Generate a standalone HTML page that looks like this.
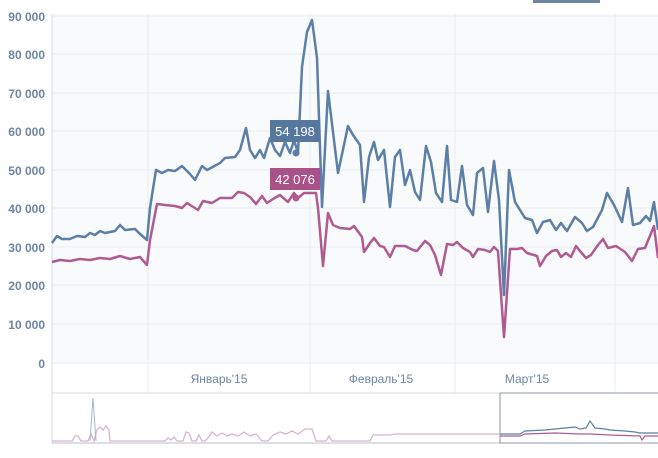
<!DOCTYPE html><html><head><style>body{margin:0;background:#fff}</style></head><body>
<svg width="658" height="453" xmlns="http://www.w3.org/2000/svg" font-family="Liberation Sans, sans-serif">
<rect x="52" y="14" width="606" height="349" fill="#f9fafc"/>
<g stroke="#e8ecf2" stroke-width="1">
<line x1="52" x2="658" y1="16" y2="16"/><line x1="52" x2="658" y1="54" y2="54"/><line x1="52" x2="658" y1="93" y2="93"/><line x1="52" x2="658" y1="131" y2="131"/><line x1="52" x2="658" y1="170" y2="170"/><line x1="52" x2="658" y1="208" y2="208"/><line x1="52" x2="658" y1="247" y2="247"/><line x1="52" x2="658" y1="285" y2="285"/><line x1="52" x2="658" y1="324" y2="324"/><line x1="52" x2="658" y1="363" y2="363"/>
<line x1="148" x2="148" y1="14" y2="393"/><line x1="310" x2="310" y1="14" y2="393"/><line x1="455" x2="455" y1="14" y2="393"/><line x1="615" x2="615" y1="14" y2="393"/>
</g>
<line x1="52" x2="52" y1="14" y2="393" stroke="#d5dbe3"/>
<line x1="52" x2="658" y1="393" y2="393" stroke="#d5dbe3"/>
<g fill="#6d85a3" font-size="12" font-weight="bold" text-anchor="end">
<text x="45" y="21">90 000</text><text x="45" y="59">80 000</text><text x="45" y="98">70 000</text><text x="45" y="136">60 000</text><text x="45" y="175">50 000</text><text x="45" y="213">40 000</text><text x="45" y="252">30 000</text><text x="45" y="290">20 000</text><text x="45" y="329">10 000</text><text x="45" y="368">0</text>
</g>
<g fill="#6d85a3" font-size="12" text-anchor="middle">
<text x="219" y="383">Январь'15</text><text x="381" y="383">Февраль'15</text><text x="527" y="383">Март'15</text>
</g>
<polyline fill="none" stroke="#5b7fa6" stroke-width="2.5" stroke-linejoin="round" points="52,243 57,236 62,239 70,239 77,236 85,237 90,233 95,235 100,231 105,233 115,231 120,225 125,230 135,229 140,234 147,240 150,208 156,170 162,173 168,170 175,171 182,166 190,174 195,180 202,166 207,170 220,163 225,158 235,157 240,150 246,128 250,150 255,158 260,150 264,158 270,138 275,150 280,156 285,142 290,153 294,140 298,153 302,67 307,32 312,20 317,58 322,207 328,91 338,173 348,126 353,135 360,145 364,202 369,157 374,142 378,160 384,150 390,207 395,157 400,150 405,185 410,170 415,192 420,200 426,146 431,162 436,193 442,202 447,146 451,200 457,202 462,166 467,205 473,215 477,173 483,168 488,212 494,161 499,200 504,295 509,170 515,202 520,210 525,218 532,220 537,233 543,222 550,220 556,230 561,223 567,231 575,217 582,223 587,231 593,227 602,210 607,193 614,205 622,222 628,188 633,225 640,223 646,216 650,221 654,202 658,230"/>
<polyline fill="none" stroke="#b05a92" stroke-width="2.5" stroke-linejoin="round" points="52,262 60,260 70,261 80,259 90,260 100,258 110,259 120,256 130,259 140,257 147,265 150,240 157,204 165,205 175,206 182,208 187,203 198,210 203,201 212,203 220,198 232,198 238,192 244,193 250,197 256,204 262,196 267,203 273,199 280,195 288,202 294,193 298,198 304,193 316,193 318,208 323,266 328,213 333,225 340,228 350,229 354,226 362,237 364,252 370,243 374,238 380,246 384,247 390,257 395,246 405,246 413,250 417,251 425,241 430,245 435,255 441,275 447,244 453,245 457,242 463,248 470,252 473,257 478,249 485,250 490,252 494,247 498,251 504,337 510,249 517,249 522,248 527,253 537,256 540,266 546,256 552,251 557,250 561,257 566,253 571,257 576,246 580,251 586,258 591,255 598,245 603,239 608,248 616,246 625,252 632,261 638,249 645,248 654,226 658,258"/>
<circle cx="296" cy="153" r="3.5" fill="#5b7fa6"/><circle cx="296" cy="198" r="3.5" fill="#b05a92"/>
<rect x="270" y="120" width="50" height="22" fill="#56789e"/><text x="295" y="136" fill="#fff" font-size="13" text-anchor="middle">54 198</text>
<rect x="270" y="168" width="50" height="22" fill="#a9528a"/><text x="295" y="184" fill="#fff" font-size="13" text-anchor="middle">42 076</text>
<rect x="533" y="0" width="67" height="3" fill="#6d85a3"/>
<line x1="52" x2="52" y1="393" y2="443" stroke="#d5dbe3"/>
<line x1="52" x2="658" y1="443" y2="443" stroke="#b8c0cc"/>
<rect x="500" y="393" width="160" height="50" fill="none" stroke="#8c96a3"/>
<polyline fill="none" stroke="#d6b7cc" stroke-width="1.3" points="52,441 72,441 75,436 78,436 81,441 88,441 91,434 94,441 97,430 100,427 103,430 106,426 109,430 110,441 165,441 168,438 171,440 174,437 177,441 183,441 186,432 189,433 192,441 196,441 199,435 202,441 205,441 208,438 212,432 217,436 222,433 227,436 232,434 238,436 244,432 250,436 256,434 262,441 268,441 273,435 280,432 286,434 292,431 298,434 305,429 312,429 316,441 326,441 329,436 332,441 370,441 373,435 390,435 395,434 400,434 500,434"/>
<polyline fill="none" stroke="#9fb7c6" stroke-width="1" points="90,441 93,398 96,441"/>
<polyline fill="none" stroke="#5b7fa6" stroke-width="1.2" points="500,434 520,434 525,431 545,430 555,429 575,427 580,429 586,428 590,421 595,428 605,429 610,430 625,431 635,432 640,433 658,433"/>
<polyline fill="none" stroke="#b05a92" stroke-width="1.2" points="500,436 520,436 525,434 555,433 580,434 590,434 610,435 640,436 642,440 645,436 658,436"/>
</svg></body></html>
